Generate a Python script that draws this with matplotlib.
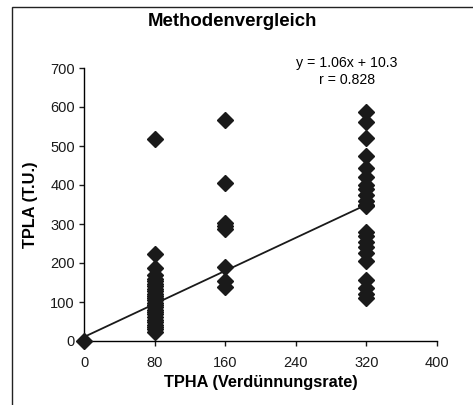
import matplotlib.pyplot as plt
import numpy as np
from matplotlib.patches import Rectangle

plt.rcParams['font.family'] = ['Liberation Sans', 'DejaVu Sans']

x80 = [518, 222, 187, 168, 160, 153, 147, 140, 134, 128, 121, 115, 110, 104, 98,
       92, 86, 80, 74, 68, 61, 55, 48, 42, 36, 30, 24]
x160 = [567, 405, 302, 295, 287, 190, 155, 138]
x320 = [588, 562, 520, 474, 444, 421, 400, 390, 374, 358, 349, 345,
        280, 268, 255, 241, 226, 204, 156, 137, 120, 110]
tpha = [0] + [80] * len(x80) + [160] * len(x160) + [320] * len(x320)
tpla = [0] + x80 + x160 + x320

steigung = 1.06
achse = 10.3

fig = plt.figure(figsize=(4.73, 4.05), dpi=100)
ax = fig.add_axes([84/473, 64/405, (437-84)/473, (341-68)/405])

ax.plot(tpha, tpla, 'D', color='#1a1a1a', markersize=8, clip_on=False, zorder=3)
xl = np.array([0, 320])
ax.plot(xl, steigung*xl + achse, color='#1a1a1a', lw=1.3, zorder=2)

ax.set_xlim(0, 400)
ax.set_ylim(0, 700)
ax.set_xticks(range(0, 401, 80))
ax.set_yticks(range(0, 701, 100))
ax.spines['top'].set_visible(False)
ax.spines['right'].set_visible(False)
for s in ['left', 'bottom']:
    ax.spines[s].set_linewidth(1.0)
ax.tick_params(direction='out', length=3.5, width=1, labelsize=10.5, colors='#1a1a1a')
ax.tick_params(axis='x', pad=7.5)
ax.tick_params(axis='y', pad=3)

ax.set_xlabel('TPHA (Verdünnungsrate)', fontsize=11.8, fontweight='bold')
ax.set_ylabel('TPLA (T.U.)', fontsize=11.8, fontweight='bold')
ax.xaxis.set_label_coords(0.5, -0.125)
ax.yaxis.set_label_coords(-0.13, 0.5)

fig.text(232/473, 1-22/405, 'Methodenvergleich', fontsize=13.4, fontweight='bold',
         ha='center', va='center')
fig.text(347/473, 1-63/405, 'y = 1.06x + 10.3', fontsize=10.2, ha='center', va='center')
fig.text(347/473, 1-80/405, 'r = 0.828', fontsize=10.2, ha='center', va='center')

fig.add_artist(Rectangle((12/473, -0.1), 1.2, 1-7/405+0.1, transform=fig.transFigure,
                         fill=False, lw=1.0, ec='#222222'))

fig.savefig('out.png', dpi=100)
